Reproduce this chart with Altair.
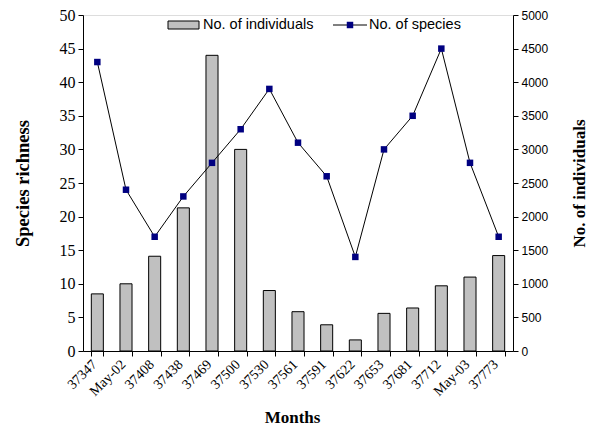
import altair as alt
import pandas as pd

months = ["37347", "May-02", "37408", "37438", "37469", "37500", "37530", "37561",
          "37591", "37622", "37653", "37681", "37712", "May-03", "37773"]
species = [43, 24, 17, 23, 28, 33, 39, 31, 26, 14, 30, 35, 45, 28, 17]
individuals = [850, 1000, 1410, 2130, 4400, 3000, 900, 585, 390, 165, 560, 640, 970, 1100, 1420]

df = pd.DataFrame({"month": months, "species": species, "individuals": individuals})

SERIF = "Liberation Serif"
SANS = "Liberation Sans"

xscale = alt.Scale(domain=months, paddingInner=0.58, paddingOuter=0.29)
xaxis = alt.Axis(
    title="Months", labelAngle=-45, labelAlign="right", labelBaseline="middle",
    labelFont=SERIF, labelFontSize=14, labelColor="black", labelPadding=6, labelOverlap=False,
    labelOffset=-3,
    tickBand="extent", tickColor="black", tickSize=5, domainColor="black",
    titleFont=SERIF, titleFontSize=17, titleFontWeight="bold", titleColor="black",
    titleBaseline="alphabetic", titleY=71, titleX=209, grid=False,
)

bars = alt.Chart(df).mark_bar(color="#C0C0C0", stroke="black", strokeWidth=1).encode(
    x=alt.X("month:N", scale=xscale, axis=xaxis, sort=months),
    y=alt.Y("individuals:Q", scale=alt.Scale(domain=[0, 5000], nice=False),
            axis=alt.Axis(orient="right", title="No. of individuals", values=list(range(0, 5001, 500)),
                          format="d", labelOverlap=False,
                          labelFont=SANS, labelFontSize=12, labelColor="black", labelPadding=3,
                          tickColor="black", tickSize=5, domainColor="black", grid=False,
                          titleFont=SERIF, titleFontSize=17, titleFontWeight="bold", titleColor="black",
                          titleAngle=270, titleBaseline="alphabetic", titleX=71, titleY=168)),
)

spec_axis = alt.Axis(orient="left", title="Species richness", values=list(range(0, 51, 5)),
                     format="d", labelOverlap=False, tickCount=11,
                     labelFont=SERIF, labelFontSize=16, labelColor="black", labelPadding=3,
                     tickColor="black", tickSize=5, domainColor="black", grid=False,
                     titleFont=SERIF, titleFontSize=18.5, titleFontWeight="bold", titleColor="black",
                     titleAngle=270, titleBaseline="alphabetic", titleX=-55, titleY=168)

base = alt.Chart(df).encode(
    x=alt.X("month:N", scale=xscale, sort=months, axis=xaxis),
    y=alt.Y("species:Q", scale=alt.Scale(domain=[0, 50], nice=False), axis=spec_axis),
)
line = base.mark_line(color="black", strokeWidth=1)
points = base.mark_square(color="#000080", size=42, opacity=1)

species_layer = alt.layer(line, points)

# legend
leg_bar = alt.Chart(pd.DataFrame({"k": [0]})).mark_rect(color="#C0C0C0", stroke="black", strokeWidth=1).encode(
    x=alt.value(85), x2=alt.value(116), y=alt.value(6), y2=alt.value(14))
leg_bar_t = alt.Chart(pd.DataFrame({"t": ["No. of individuals"]})).mark_text(
    align="left", baseline="middle", font=SANS, fontSize=14.5, color="black").encode(
    x=alt.value(120), y=alt.value(10), text="t:N")
leg_line = alt.Chart(pd.DataFrame({"k": [0]})).mark_rule(color="black", strokeWidth=1).encode(
    x=alt.value(250), x2=alt.value(284), y=alt.value(10))
leg_pt = alt.Chart(pd.DataFrame({"k": [0]})).mark_square(color="#000080", size=42, opacity=1).encode(
    x=alt.value(267), y=alt.value(10))
leg_line_t = alt.Chart(pd.DataFrame({"t": ["No. of species"]})).mark_text(
    align="left", baseline="middle", font=SANS, fontSize=14.5, color="black").encode(
    x=alt.value(286), y=alt.value(10), text="t:N")

chart = alt.layer(bars, species_layer, leg_bar, leg_bar_t, leg_line, leg_pt, leg_line_t).resolve_scale(
    y="independent"
).properties(
    width=430, height=336,
    autosize=alt.AutoSizeParams(type="none"),
    padding={"left": 83, "top": 15, "right": 77, "bottom": 74},
).configure_view(stroke=None).configure(background="white")

chart.save("out.html", embed_options={"renderer": "svg", "actions": False})
